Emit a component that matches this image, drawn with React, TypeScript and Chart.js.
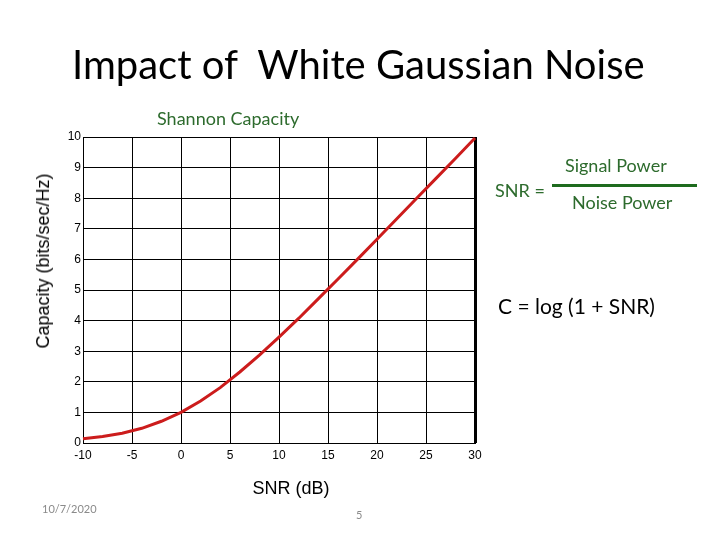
import React, { useEffect, useRef } from "react";
import { Chart, registerables } from "chart.js";

Chart.register(...registerables);

const snrDb = [-10, -8, -6, -4, -2, 0, 2, 4, 6, 8, 10, 12, 14, 16, 18, 20, 22, 24, 26, 28, 30];
const capacity = [0.14, 0.21, 0.32, 0.48, 0.71, 1.0, 1.37, 1.81, 2.32, 2.87, 3.46, 4.07, 4.71, 5.35, 6.0, 6.66, 7.32, 7.98, 8.64, 9.3, 9.97];

const xRange = { min: -10, max: 30, step: 5 };
const yRange = { min: 0, max: 10, step: 1 };

const titleText = "Impact of  White Gaussian Noise";
const subtitleText = "Shannon Capacity";
const yAxisTitle = "Capacity (bits/sec/Hz)";
const xAxisTitle = "SNR (dB)";
const formulaSnrLabel = "SNR =";
const formulaNum = "Signal Power";
const formulaDen = "Noise Power";
const formulaCap = "C = log (1 + SNR)";
const footerDate = "10/7/2020";
const footerPage = "5";

const GREEN = "#2d6b2d";
const CAL = "Lato, 'Open Sans', sans-serif";
const ARIAL = "'Liberation Sans', Arial, sans-serif";

export default function App() {
  const canvasRef = useRef<HTMLCanvasElement | null>(null);

  useEffect(() => {
    const canvas = canvasRef.current;
    if (!canvas) return;
    const chart = new Chart(canvas, {
      type: "line",
      data: {
        datasets: [
          {
            data: snrDb.map((x, i) => ({ x, y: capacity[i] })),
            borderColor: "#cc1c1c",
            borderWidth: 3,
            pointRadius: 0,
            tension: 0,
            fill: false,
            clip: false as any,
          },
        ],
      },
      options: {
        animation: false,
        responsive: false,
        devicePixelRatio: 1,
        layout: { padding: { left: 53, top: 137, right: 245, bottom: 77 } },
        plugins: { legend: { display: false }, tooltip: { enabled: false }, title: { display: false } },
        scales: {
          x: {
            type: "linear",
            min: xRange.min,
            max: xRange.max,
            afterFit: (s: any) => {
              s.height = 20;
            },
            ticks: {
              stepSize: xRange.step,
              color: "#000",
              font: { family: ARIAL, size: 12 },
              padding: 5,
              maxRotation: 0,
            },
            grid: {
              color: "#000",
              lineWidth: (ctx: any) => (ctx.tick && ctx.tick.value === xRange.max ? 3 : 1),
              drawTicks: false,
            },
            border: { display: true, color: "#000", width: 1 },
          },
          y: {
            type: "linear",
            min: yRange.min,
            max: yRange.max,
            afterFit: (s: any) => {
              s.width = 30;
            },
            ticks: {
              stepSize: yRange.step,
              color: "#000",
              font: { family: ARIAL, size: 12 },
              padding: 2,
            },
            grid: { color: "#000", lineWidth: 1, drawTicks: false },
            border: { display: true, color: "#000", width: 1 },
          },
        },
      },
    });
    return () => chart.destroy();
  }, []);

  const abs = (s: React.CSSProperties): React.CSSProperties => ({ position: "absolute", whiteSpace: "pre", lineHeight: 1, ...s });

  return (
    <div style={{ position: "absolute", left: 0, top: 0, width: 720, height: 540, background: "#fff", overflow: "hidden" }}>
      <canvas ref={canvasRef} width={720} height={540} style={{ position: "absolute", left: 0, top: 0, width: 720, height: 540 }} />
      <div style={abs({ left: 72, top: 44, fontFamily: CAL, fontSize: 40, color: "#000" })}>{titleText}</div>
      <div style={abs({ left: 157, top: 109, fontFamily: CAL, fontSize: 18, color: GREEN })}>{subtitleText}</div>
      <div
        style={abs({
          left: 43,
          top: 261,
          transform: "translate(-50%, -50%) rotate(-90deg)",
          fontFamily: ARIAL,
          fontSize: 18,
          color: "#000",
        })}
      >
        {yAxisTitle}
      </div>
      <div style={abs({ left: 291, top: 488, transform: "translate(-50%, -50%)", fontFamily: ARIAL, fontSize: 18, color: "#000" })}>
        {xAxisTitle}
      </div>
      <div style={abs({ left: 495, top: 181, fontFamily: CAL, fontSize: 18, color: GREEN })}>{formulaSnrLabel}</div>
      <div style={abs({ left: 565, top: 156, fontFamily: CAL, fontSize: 18, color: GREEN })}>{formulaNum}</div>
      <div style={{ position: "absolute", left: 552, top: 184, width: 145, height: 3, background: "#1e6b1e" }} />
      <div style={abs({ left: 572, top: 193, fontFamily: CAL, fontSize: 18, color: GREEN })}>{formulaDen}</div>
      <div style={abs({ left: 498, top: 295, fontFamily: CAL, fontSize: 21, color: "#000" })}>{formulaCap}</div>
      <div style={abs({ left: 42, top: 503, fontFamily: CAL, fontSize: 11, color: "#8a8a8a" })}>{footerDate}</div>
      <div style={abs({ left: 356, top: 509, fontFamily: CAL, fontSize: 11, color: "#8a8a8a" })}>{footerPage}</div>
    </div>
  );
}
